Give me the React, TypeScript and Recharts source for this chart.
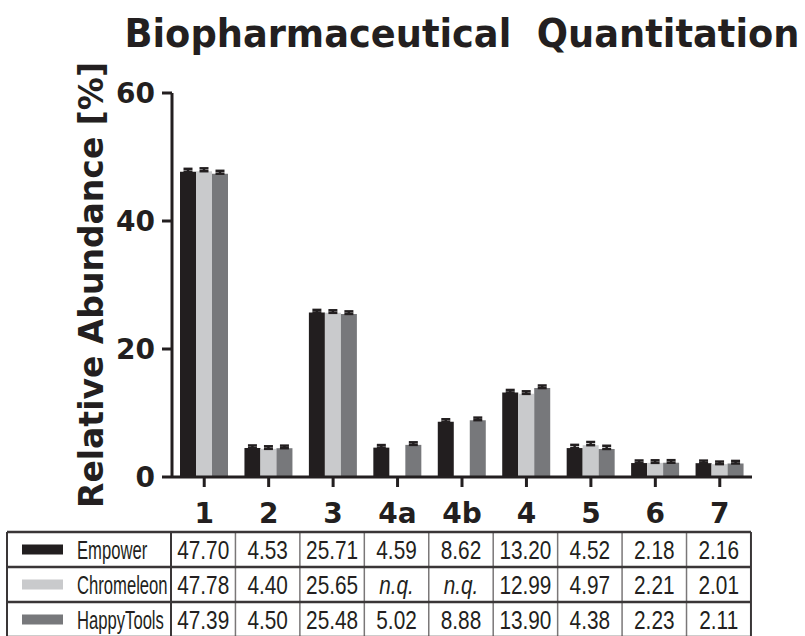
import { BarChart, Bar, XAxis, YAxis, ErrorBar } from 'recharts';

const categories = ['1', '2', '3', '4a', '4b', '4', '5', '6', '7'];
const empower = [47.7, 4.53, 25.71, 4.59, 8.62, 13.2, 4.52, 2.18, 2.16];
const chromeleon = [47.78, 4.4, 25.65, null, null, 12.99, 4.97, 2.21, 2.01];
const happyTools = [47.39, 4.5, 25.48, 5.02, 8.88, 13.9, 4.38, 2.23, 2.11];
// upper error (SEM) – read off the little caps, roughly
const empowerErr = [0.45, 0.4, 0.4, 0.4, 0.4, 0.4, 0.5, 0.4, 0.4];
const chromeleonErr = [0.45, 0.4, 0.4, null, null, 0.4, 0.5, 0.4, 0.4];
const happyToolsErr = [0.45, 0.4, 0.4, 0.4, 0.4, 0.4, 0.5, 0.4, 0.4];
const yTicks = [0, 20, 40, 60];

const series = [
  { key: 'empower', name: 'Empower', color: '#221e1f', values: empower, err: empowerErr },
  { key: 'chromeleon', name: 'Chromeleon', color: '#c9cacc', values: chromeleon, err: chromeleonErr },
  { key: 'happyTools', name: 'HappyTools', color: '#77787b', values: happyTools, err: happyToolsErr },
];

const data = categories.map((c, i) => {
  const row: Record<string, unknown> = { name: c };
  series.forEach((s) => {
    row[s.key] = s.values[i];
    row[s.key + 'Err'] = s.values[i] == null ? undefined : [0, s.err[i]];
  });
  return row;
});

const INK = '#231f20';
const tickFont = { fontSize: 28, fontWeight: 'bold', fill: INK, fontFamily: 'DejaVu Sans' };

// table geometry (page pixels)
const TBL_LEFT = 7;
const TBL_TOP = 532;
const LABEL_W = 164;
const COL_W = 64.44;
const ROW_H = 35;

function SummaryTable() {
  const right = TBL_LEFT + LABEL_W + COL_W * categories.length;
  const bottom = TBL_TOP + ROW_H * series.length;
  const cellText = { fontFamily: "'Liberation Sans', Arial, sans-serif", fontSize: 26, fill: INK };
  return (
    <svg width={805} height={636} style={{ position: 'absolute', left: 0, top: 0, pointerEvents: 'none' }}>
      {categories.map((c, k) => {
        const x = TBL_LEFT + LABEL_W + COL_W * k;
        return (
          <line
            key={c}
            x1={x}
            x2={x}
            y1={TBL_TOP}
            y2={bottom}
            stroke={k === 0 ? '#3a3637' : '#7a7778'}
            strokeWidth={k === 0 ? 2 : 1.5}
          />
        );
      })}
      <line x1={TBL_LEFT} x2={TBL_LEFT} y1={TBL_TOP} y2={bottom} stroke="#3a3637" strokeWidth={2} />
      <line x1={right} x2={right} y1={TBL_TOP} y2={bottom} stroke="#3a3637" strokeWidth={2} />
      {series.map((s, r) => (
        <line
          key={s.key}
          x1={TBL_LEFT}
          x2={right}
          y1={TBL_TOP + ROW_H * r}
          y2={TBL_TOP + ROW_H * r}
          stroke="#3a3637"
          strokeWidth={2.5}
        />
      ))}
      <line x1={TBL_LEFT} x2={right} y1={bottom} y2={bottom} stroke="#3a3637" strokeWidth={2.5} />
      {series.map((s, r) => {
        const cy = TBL_TOP + ROW_H * r + ROW_H / 2;
        const base = cy + 9.5;
        const lx = 77;
        return (
          <g key={s.key}>
            <rect x={22} y={cy - 5} width={41} height={10} fill={s.color} />
            <text x={lx} y={base} transform={`translate(${lx},0) scale(0.64,1) translate(${-lx},0)`} style={cellText}>
              {s.name}
            </text>
            {s.values.map((v, i) => {
              const cx = TBL_LEFT + LABEL_W + COL_W * i + COL_W / 2;
              return (
                <text
                  key={categories[i]}
                  x={cx}
                  y={base}
                  textAnchor="middle"
                  transform={`translate(${cx},0) scale(0.8,1) translate(${-cx},0)`}
                  style={{ ...cellText, fontStyle: v == null ? 'italic' : 'normal' }}
                >
                  {v == null ? 'n.q.' : v.toFixed(2)}
                </text>
              );
            })}
          </g>
        );
      })}
    </svg>
  );
}

export default function App() {
  return (
    <div style={{ position: 'absolute', left: 0, top: 0, width: 805, height: 636, background: '#fff' }}>
      <BarChart
        width={805}
        height={530}
        data={data}
        margin={{ top: 93, right: 53, bottom: 3, left: 0 }}
        barCategoryGap={8}
        barGap={0}
      >
        <text
          x={462}
          y={47}
          textAnchor="middle"
          textLength={675}
          lengthAdjust="spacingAndGlyphs"
          style={{ fontFamily: "'DejaVu Sans Condensed', 'DejaVu Sans'", fontWeight: 'bold', fontSize: 39, fill: INK }}
        >
          Biopharmaceutical{'\u00a0\u00a0'}Quantitation
        </text>
        <text
          x={103}
          y={285}
          textAnchor="middle"
          transform="rotate(-90, 103, 285)"
          style={{ fontFamily: 'DejaVu Sans', fontWeight: 'bold', fontSize: 33, fill: INK }}
        >
          Relative Abundance [%]
        </text>
        <XAxis
          dataKey="name"
          height={50}
          tickSize={10}
          tickMargin={16}
          interval={0}
          axisLine={{ stroke: INK, strokeWidth: 3 }}
          tickLine={{ stroke: INK, strokeWidth: 3 }}
          tick={tickFont}
        />
        <YAxis
          width={172}
          domain={[0, 60]}
          ticks={yTicks}
          tickSize={10}
          tickMargin={7}
          axisLine={{ stroke: INK, strokeWidth: 3 }}
          tickLine={{ stroke: INK, strokeWidth: 3 }}
          tick={tickFont}
        />
        {series.map((s) => (
          <Bar key={s.key} dataKey={s.key} name={s.name} fill={s.color} isAnimationActive={false}>
            <ErrorBar
              dataKey={s.key + 'Err'}
              direction="y"
              width={4.5}
              stroke={INK}
              strokeWidth={2.5}
              isAnimationActive={false}
            />
          </Bar>
        ))}
      </BarChart>
      <SummaryTable />
    </div>
  );
}
